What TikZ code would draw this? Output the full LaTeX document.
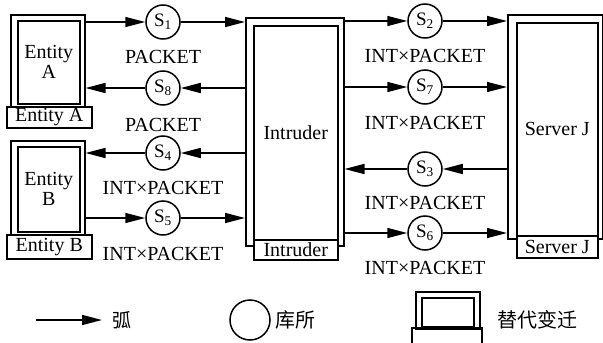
\documentclass[tikz,border=0pt]{standalone}
\usepackage{fontspec}
\setmainfont{Liberation Serif}
\newfontfamily\cjk{Noto Sans CJK SC}
\usetikzlibrary{arrows.meta,positioning}

\begin{document}
\begin{tikzpicture}[x=1pt,y=-1pt,
		every node/.style={font=\fontsize{20}{22}\selectfont},
		place/.style={circle,draw,line width=1.5pt,minimum size=34pt,inner sep=0pt,font=\fontsize{19}{21}\selectfont},
		box/.style={draw,line width=1.5pt,anchor=north west,inner sep=0pt,align=center},
		tag/.style={box,fill=white},
		arc/.style={line width=1.5pt,-{Triangle[length=20pt,width=10pt]}},
		lab/.style={inner sep=0pt}]
				\useasboundingbox (0,0) rectangle (603,343);
				% entity A
				\node[box,minimum width=74pt,minimum height=96pt] (entAo) at (10,14) {};
				\node[box,minimum width=62pt,minimum height=83pt] (entA) at (17,20) {Entity\\[-2pt]A};
				\node[tag,minimum width=85pt,minimum height=21pt] (entAtag) at (6,106) {Entity A};
				% entity B
				\node[box,minimum width=74pt,minimum height=96pt] (entBo) at (10,140) {};
				\node[box,minimum width=62pt,minimum height=85pt] (entB) at (17,146) {Entity\\[-2pt]B};
				\node[tag,minimum width=85pt,minimum height=24pt] (entBtag) at (6,234) {Entity B};
				% intruder
				\node[box,minimum width=98pt,minimum height=228pt] (intro) at (245,17) {};
				\node[box,minimum width=84pt,minimum height=214pt] (intr) at (253,25) {Intruder};
				\node[tag,minimum width=84pt,minimum height=20pt] (intrtag) at (253,239) {Intruder};
				% server
				\node[box,minimum width=95pt,minimum height=224pt] (servo) at (507,14) {};
				\node[box,minimum width=81pt,minimum height=213pt] (serv) at (516,22) {Server J};
				\node[tag,minimum width=81pt,minimum height=22pt] (servtag) at (516,235) {Server J};
				% places
				\node[place] (s1) at (163,22) {S\textsubscript{1}};
				\node[place] (s8) at (163,88) {S\textsubscript{8}};
				\node[place] (s4) at (163,153) {S\textsubscript{4}};
				\node[place] (s5) at (163,218) {S\textsubscript{5}};
				\node[place] (s2) at (425,21) {S\textsubscript{2}};
				\node[place] (s7) at (425,87) {S\textsubscript{7}};
				\node[place] (s3) at (425,169) {S\textsubscript{3}};
				\node[place] (s6) at (425,233) {S\textsubscript{6}};
				% place types
				\node[lab,below=10pt of s1] {PACKET};
				\node[lab,below=12pt of s8] {PACKET};
				\node[lab,below=10pt of s4] {INT×PACKET};
				\node[lab,below=11pt of s5] {INT×PACKET};
				\node[lab,below=10pt of s2] {INT×PACKET};
				\node[lab,below=11pt of s7] {INT×PACKET};
				\node[lab,below=9pt of s3] {INT×PACKET};
				\node[lab,below=10pt of s6] {INT×PACKET};
				% arcs, left side
				\draw[arc] (entAo.east |- s1) -- (s1);
				\draw[arc] (s1) -- (s1 -| intro.west);
				\draw[arc] (s8 -| intro.west) -- (s8);
				\draw[arc] (s8) -- (s8 -| entAo.east);
				\draw[arc] (s4 -| intro.west) -- (s4);
				\draw[arc] (s4) -- (s4 -| entBo.east);
				\draw[arc] (entBo.east |- s5) -- (s5);
				\draw[arc] (s5) -- (s5 -| intro.west);
				% arcs, right side
				\draw[arc] (intro.east |- s2) -- (s2);
				\draw[arc] (s2) -- (s2 -| servo.west);
				\draw[arc] (intro.east |- s7) -- (s7);
				\draw[arc] (s7) -- (s7 -| servo.west);
				\draw[arc] (s3 -| servo.west) -- (s3);
				\draw[arc] (s3) -- (s3 -| intro.east);
				\draw[arc] (intro.east |- s6) -- (s6);
				\draw[arc] (s6) -- (s6 -| servo.west);
				% legend
				\coordinate (la) at (36,320);
				\coordinate (lb) at (102,320);
				\draw[arc] (la) -- (lb);
				\node[anchor=west,inner sep=0pt,font=\cjk\fontsize{19}{21}\selectfont] (larc) at (112,320) {弧};
				\node[place,minimum size=40pt] (lplace) at (250,320) {};
				\node[anchor=west,inner sep=0pt,font=\cjk\fontsize{20}{22}\selectfont] (lpl) at (275,320) {库所};
				\node[box,minimum width=64pt,minimum height=37pt] (lboxo) at (415,291) {};
				\node[box,minimum width=52pt,minimum height=29pt] (lbox) at (421,297) {};
				\draw[line width=1.5pt] (412,345) -- (412,328) -- (482,328) -- (482,345);
				\node[anchor=west,inner sep=0pt,font=\cjk\fontsize{20}{22}\selectfont] (ltr) at (497,320) {替代变迁};
			\end{tikzpicture}
\end{document}
